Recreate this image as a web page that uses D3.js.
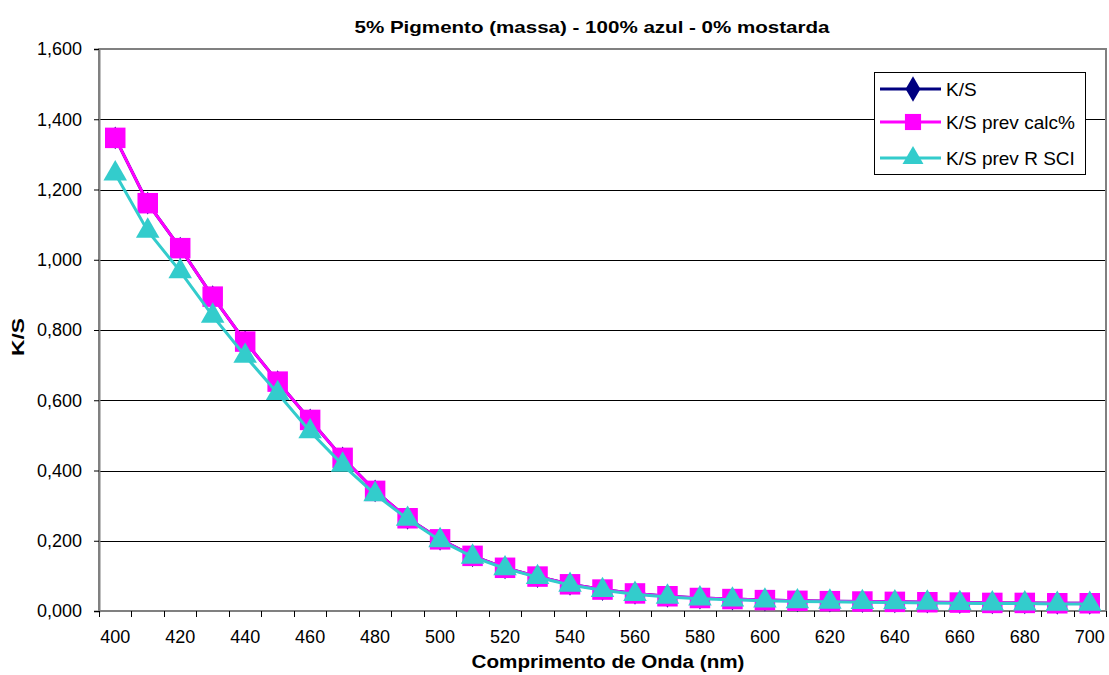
<!DOCTYPE html>
<html><head><meta charset="utf-8">
<script src="https://cdn.jsdelivr.net/npm/d3@7"></script>
<style>
body{margin:0;background:#fff;}
text{font-family:"Liberation Sans",Arial,sans-serif;}
</style></head>
<body><svg id="c" width="1109" height="675"></svg>
<script>
const categories = [400,410,420,430,440,450,460,470,480,490,500,510,520,530,540,550,560,570,580,590,600,610,620,630,640,650,660,670,680,690,700];
const ksValues = [1.347,1.161,1.033,0.895,0.767,0.653,0.544,0.436,0.342,0.264,0.204,0.157,0.123,0.098,0.076,0.061,0.050,0.042,0.037,0.034,0.031,0.029,0.028,0.027,0.026,0.025,0.024,0.023,0.023,0.022,0.022];
const ksCalcValues = [1.347,1.161,1.033,0.895,0.767,0.653,0.544,0.436,0.342,0.264,0.204,0.157,0.123,0.098,0.076,0.061,0.050,0.042,0.037,0.034,0.031,0.029,0.028,0.027,0.026,0.025,0.024,0.023,0.023,0.022,0.022];
const ksRsciValues = [1.245,1.082,0.967,0.840,0.726,0.620,0.511,0.416,0.332,0.262,0.201,0.154,0.121,0.096,0.074,0.059,0.048,0.040,0.035,0.032,0.029,0.027,0.026,0.025,0.024,0.023,0.022,0.021,0.021,0.020,0.020];
const yTicks = [0,0.2,0.4,0.6,0.8,1.0,1.2,1.4,1.6];
const xTickLabels = [400,420,440,460,480,500,520,540,560,580,600,620,640,660,680,700];
const seriesNames = ["K/S","K/S prev calc%","K/S prev R SCI"];

const svg = d3.select("#c");
const L=99, R=1106, T=49, B=611;
const x = d3.scaleBand().domain(categories).range([L,R]);
const y = d3.scaleLinear().domain([0,1.6]).range([B,T]);
const fmt = v => d3.format(".3f")(v).replace(".",",");

// gridlines
svg.append("g").selectAll("line").data(yTicks.filter(v=>v>0 && v<1.6)).join("line")
  .attr("x1",L).attr("x2",R).attr("y1",d=>Math.round(y(d))+0.5).attr("y2",d=>Math.round(y(d))+0.5)
  .attr("stroke","#000").attr("stroke-width",1);
// plot border
svg.append("rect").attr("x",L).attr("y",T).attr("width",R-L).attr("height",B-T)
  .attr("fill","none").attr("stroke","#808080").attr("stroke-width",2);

// y axis
const yAxis = d3.axisLeft(y).tickValues(yTicks).tickFormat(fmt).tickSizeOuter(0).tickSize(5).tickPadding(12);
const gy = svg.append("g").attr("transform",`translate(${L},0)`).call(yAxis);
gy.select(".domain").attr("stroke","#808080").attr("stroke-width",2);
gy.selectAll(".tick line").attr("stroke","#000");
gy.selectAll("text").attr("font-size",18).attr("fill","#000").style("font-family","Liberation Sans, Arial, sans-serif");

// x axis: ticks at category boundaries
const gx = svg.append("g").attr("transform",`translate(0,${B})`);
gx.append("line").attr("x1",L).attr("x2",R).attr("y1",0).attr("y2",0).attr("stroke","#808080").attr("stroke-width",2);
const bounds = categories.map(c=>x(c)).concat([R]);
gx.selectAll("line.t").data(bounds).join("line").attr("class","t")
  .attr("x1",d=>Math.round(d)+0.5).attr("x2",d=>Math.round(d)+0.5).attr("y1",0).attr("y2",6).attr("stroke","#000");
gx.selectAll("text").data(xTickLabels).join("text")
  .attr("x",d=>x(d)+x.bandwidth()/2).attr("y",32).attr("text-anchor","middle")
  .attr("font-size",18).attr("fill","#000").text(d=>d);

// lines and markers
const cx = d=>x(d)+x.bandwidth()/2;
const series = [
  {name:seriesNames[0], vals:ksValues, color:"#000080", sym:d3.symbolDiamond, size:150},
  {name:seriesNames[1], vals:ksCalcValues, color:"#ff00ff", sym:d3.symbolSquare, size:420},
  {name:seriesNames[2], vals:ksRsciValues, color:"#33cccc", sym:d3.symbolTriangle, size:240}
];
const line = d3.line().x((d,i)=>cx(categories[i])).y(d=>y(d));
series.forEach(s=>{
  svg.append("path").attr("d",line(s.vals)).attr("fill","none").attr("stroke",s.color).attr("stroke-width",3);
  svg.append("g").selectAll("path").data(s.vals).join("path")
    .attr("transform",(d,i)=>`translate(${cx(categories[i])},${y(d)})`)
    .attr("d",d3.symbol().type(s.sym).size(s.size)).attr("fill",s.color);
});

// legend
const lg = svg.append("g");
lg.append("rect").attr("x",874.5).attr("y",72.5).attr("width",211).attr("height",102)
  .attr("fill","#fff").attr("stroke","#000").attr("stroke-width",1);
const ly = [89,122,158];
const lsz = [190,260,190];
series.forEach((s,i)=>{
  lg.append("line").attr("x1",880).attr("x2",941).attr("y1",ly[i]).attr("y2",ly[i]).attr("stroke",s.color).attr("stroke-width",3);
  lg.append("path").attr("transform",`translate(913,${ly[i]})`).attr("d",d3.symbol().type(s.sym).size(lsz[i])).attr("fill",s.color);
  lg.append("text").attr("x",946).attr("y",ly[i]+7).attr("font-size",19).attr("fill","#000").text(s.name);
});

// titles
svg.append("text").attr("x",592).attr("y",33).attr("text-anchor","middle").attr("font-size",17)
  .attr("font-weight","bold").attr("textLength",475).attr("lengthAdjust","spacingAndGlyphs")
  .text("5% Pigmento (massa) - 100% azul - 0% mostarda");
svg.append("text").attr("x",608).attr("y",668).attr("text-anchor","middle").attr("font-size",18)
  .attr("font-weight","bold").attr("textLength",273).attr("lengthAdjust","spacingAndGlyphs")
  .text("Comprimento de Onda (nm)");
svg.append("text").attr("transform","translate(24,337) rotate(-90)").attr("text-anchor","middle").attr("font-size",16)
  .attr("font-weight","bold").attr("textLength",38).attr("lengthAdjust","spacingAndGlyphs").text("K/S");
</script></body></html>
